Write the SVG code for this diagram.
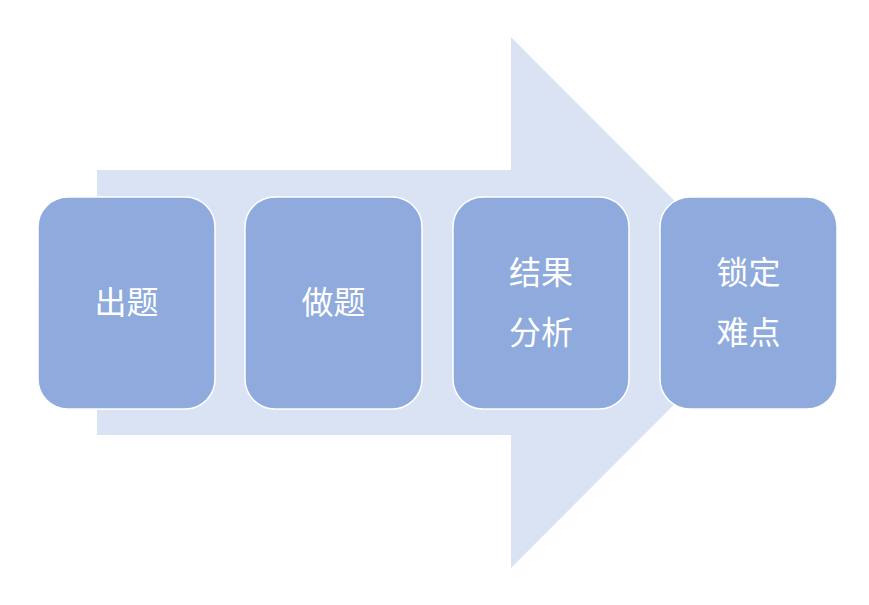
<svg xmlns="http://www.w3.org/2000/svg" width="869" height="605" viewBox="0 0 869 605">
<style>
.box{fill:#8faadc;stroke:#ffffff;stroke-width:1.5}
.t{fill:#ffffff;font-family:"Noto Sans CJK SC","Liberation Sans",sans-serif;font-size:32px;text-anchor:middle;dominant-baseline:central}
</style>
<rect width="869" height="605" fill="#ffffff"/>
<g id="arrow"><polygon points="97,170 511,170 511,37 776,302.5 511,568 511,435 97,435" fill="#dae3f3"/></g>
<g id="connectors"></g>
<g id="n1"><rect class="box" x="38" y="197" width="177" height="212" rx="30"/><text class="t" x="126.5" y="300">出题</text></g>
<g id="n2"><rect class="box" x="245" y="197" width="177" height="212" rx="30"/><text class="t" x="333.5" y="300">做题</text></g>
<g id="n3"><rect class="box" x="453" y="197" width="176" height="212" rx="30"/><text class="t" x="541" y="270">结果</text><text class="t" x="541" y="330">分析</text></g>
<g id="n4"><rect class="box" x="660" y="197" width="177" height="212" rx="30"/><text class="t" x="748.5" y="270">锁定</text><text class="t" x="748.5" y="330">难点</text></g>
</svg>
